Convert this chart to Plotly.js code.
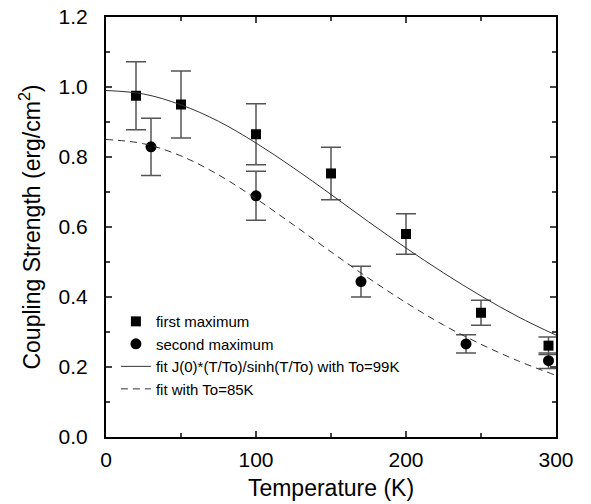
<!DOCTYPE html>
<html>
<head>
<meta charset="utf-8">
<script src="https://cdn.plot.ly/plotly-3.0.1.min.js"></script>
<style>html,body{margin:0;padding:0;background:#fff;}#chart{width:591px;height:504px;}</style>
</head>
<body>
<div id="chart"></div>
<script>
// First maximum (squares)
const firstT = [20, 50, 100, 150, 200, 250, 295];
const firstJ = [0.975, 0.950, 0.865, 0.753, 0.580, 0.355, 0.261];
const firstErr = [0.097, 0.096, 0.087, 0.075, 0.058, 0.036, 0.025];

// Second maximum (circles)
const secondT = [30, 100, 170, 240, 295];
const secondJ = [0.829, 0.689, 0.444, 0.266, 0.218];
const secondErr = [0.082, 0.070, 0.044, 0.026, 0.022];

// Fit curves
const fitT = [0, 25, 50, 75, 100, 125, 150, 175, 200, 225, 250, 275, 300];
const fit99J = [0.990, 0.980, 0.949, 0.902, 0.840, 0.769, 0.693, 0.615, 0.540, 0.469, 0.403, 0.343, 0.291];
const fit85J = [0.850, 0.838, 0.803, 0.749, 0.681, 0.606, 0.529, 0.454, 0.384, 0.320, 0.265, 0.217, 0.176];

const names = ['first maximum', 'second maximum', 'fit J(0)*(T/To)/sinh(T/To) with To=99K', 'fit with To=85K'];

const errStyle = {type: 'data', visible: true, color: '#555', thickness: 1.5, width: 10};

const traces = [
  {x: firstT, y: firstJ, name: names[0], mode: 'markers', type: 'scatter',
   marker: {symbol: 'square', size: 10, color: '#000'},
   error_y: Object.assign({array: firstErr}, errStyle)},
  {x: secondT, y: secondJ, name: names[1], mode: 'markers', type: 'scatter',
   marker: {symbol: 'circle', size: 11, color: '#000'},
   error_y: Object.assign({array: secondErr}, errStyle)},
  {x: fitT, y: fit99J, name: names[2], mode: 'lines', type: 'scatter',
   line: {color: '#333', width: 1, shape: 'spline'}},
  {x: fitT, y: fit85J, name: names[3], mode: 'lines', type: 'scatter',
   line: {color: '#333', width: 1, dash: '7px,5px', shape: 'spline'}}
];

const tickFont = {family: 'Liberation Sans, Arial, sans-serif', size: 21, color: '#000'};
const titleFont = {family: 'Liberation Sans, Arial, sans-serif', size: 23, color: '#000'};

const layout = {
  width: 591, height: 504,
  margin: {l: 106, r: 35, t: 17, b: 67},
  paper_bgcolor: '#fff', plot_bgcolor: '#fff',
  font: {family: 'Liberation Sans, Arial, sans-serif', color: '#000'},
  showlegend: true,
  legend: {x: 0.022, y: 0.314, xanchor: 'left', yanchor: 'top',
           bgcolor: 'rgba(0,0,0,0)', font: {size: 15, color: '#000'},
           tracegroupgap: 0, itemwidth: 30},
  xaxis: {range: [0, 300], tickvals: [0, 100, 200, 300], ticks: 'inside', ticklen: 6, tickwidth: 1.5,
          minor: {tickvals: [50, 150, 250], ticks: 'inside', ticklen: 4, tickwidth: 1.5},
          showgrid: false, zeroline: false, showline: true, linecolor: '#000', linewidth: 2, mirror: 'ticks',
          tickfont: tickFont, ticklabelstandoff: 3,
          title: {text: 'Temperature (K)', font: titleFont, standoff: 10}},
  yaxis: {range: [0, 1.2], tickvals: [0, 0.2, 0.4, 0.6, 0.8, 1.0, 1.2], tickformat: '.1f',
          ticks: 'inside', ticklen: 6, tickwidth: 1.5,
          minor: {tickvals: [0.1, 0.3, 0.5, 0.7, 0.9, 1.1], ticks: 'inside', ticklen: 4, tickwidth: 1.5},
          showgrid: false, zeroline: false, showline: true, linecolor: '#000', linewidth: 2, mirror: 'ticks',
          tickfont: tickFont, ticklabelstandoff: 12,
          title: {text: 'Coupling Strength (erg/cm<sup>2</sup>)', font: titleFont, standoff: 12}}
};

Plotly.newPlot('chart', traces, layout, {displayModeBar: false, staticPlot: true});
</script>
</body>
</html>
